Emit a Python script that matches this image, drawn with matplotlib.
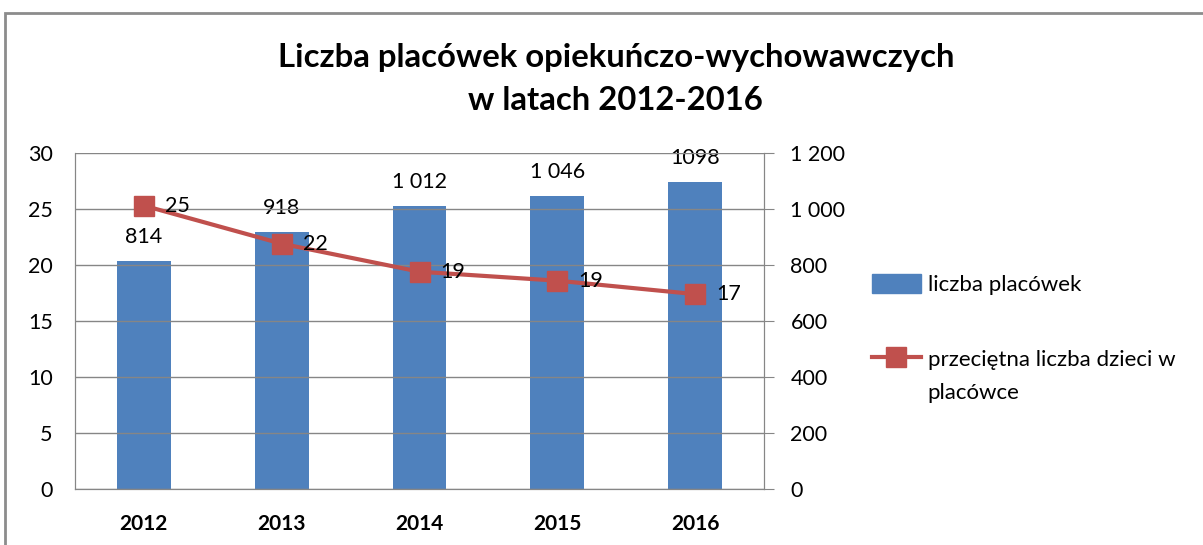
import matplotlib
matplotlib.use("Agg")
import matplotlib.pyplot as plt
from matplotlib.lines import Line2D
from matplotlib.patches import Patch, Rectangle
from matplotlib.ticker import FuncFormatter

plt.rcParams['font.family'] = ['Lato', 'DejaVu Sans']

years = ["2012", "2013", "2014", "2015", "2016"]
placowki = [814, 918, 1012, 1046, 1098]
placowki_labels = ["814", "918", "1 012", "1 046", "1098"]
dzieci = [25.3, 21.9, 19.4, 18.6, 17.4]
dzieci_labels = ["25", "22", "19", "19", "17"]

bar_color = "#4F81BD"
line_color = "#C0504D"
grid_color = "#868686"

fig = plt.figure(figsize=(12.03, 5.45), dpi=100)
# chart frame like in the spreadsheet
fig.patches.append(Rectangle((5 / 1203, -0.1), 1.2, 1.1 - 13 / 545,
                             transform=fig.transFigure, fill=False,
                             edgecolor="#8c8c8c", linewidth=2))

ax = fig.add_axes([75 / 1203, 1 - 489 / 545, 689 / 1203, 336 / 545])
ax2 = ax.twinx()

x = range(len(years))
# bars go to the right axis, line to the left one
ax2.bar(x, placowki, width=0.39, color=bar_color, zorder=2)
ax2.set_ylim(0, 1200)
ax2.set_yticks(range(0, 1201, 200))
ax2.yaxis.set_major_formatter(FuncFormatter(lambda v, p: f"{int(v):,}".replace(",", " ")))
for i, lab in enumerate(placowki_labels):
    ax2.annotate(lab, (i, placowki[i]), xytext=(0, 10), textcoords="offset points",
                 ha="center", va="bottom", fontsize=15.5)

ax.set_zorder(ax2.get_zorder() + 1)
ax.patch.set_visible(False)
ax.plot(x, dzieci, color=line_color, linewidth=3, marker="s", markersize=14.5, zorder=3)
for i, lab in enumerate(dzieci_labels):
    ax.annotate(lab, (i, dzieci[i]), xytext=(15, 0), textcoords="offset points",
                ha="left", va="center", fontsize=15.5)
ax.set_ylim(0, 30)
ax.set_yticks(range(0, 31, 5))
ax.set_xlim(-0.5, 4.5)
ax.set_xticks(list(x))
ax.set_xticklabels(years, fontweight="bold", fontsize=15)
ax.grid(True, axis="y", color=grid_color, linewidth=1)
ax.set_axisbelow(True)

for a in (ax, ax2):
    for s in a.spines.values():
        s.set_color(grid_color)
    a.spines["top"].set_visible(False)
ax.tick_params(axis="y", length=0, labelsize=15.5, pad=16)
ax.tick_params(axis="x", length=0, pad=18)
ax2.tick_params(axis="y", length=7, color=grid_color, labelsize=15.5, pad=12)

handles = [Patch(color=bar_color),
           Line2D([0], [0], color=line_color, linewidth=3, marker="s", markersize=14.5)]
leg = fig.legend(handles, ["liczba placówek", "przeciętna liczba dzieci w"],
                 loc="center left", bbox_to_anchor=(852 / 1203, 1 - 322 / 545),
                 frameon=False, fontsize=16, labelspacing=2.4, handlelength=2.2,
                 handletextpad=0.3, handleheight=0.9)
# second line of the long label, under the first one
fig.canvas.draw()
bb = leg.get_texts()[1].get_window_extent().transformed(fig.transFigure.inverted())
fig.text(bb.x0, bb.y0 - 33 / 545 + (bb.y1 - bb.y0) / 2, "placówce", ha="left",
         va="center", fontsize=16)

fig.text(0.512, 1 - 58 / 545, "Liczba placówek opiekuńczo-wychowawczych", ha="center",
         va="center", fontsize=23.7, fontweight="bold")
fig.text(0.512, 1 - 100 / 545, "w latach 2012-2016", ha="center",
         va="center", fontsize=23.7, fontweight="bold")

fig.savefig("out.png", dpi=100)
